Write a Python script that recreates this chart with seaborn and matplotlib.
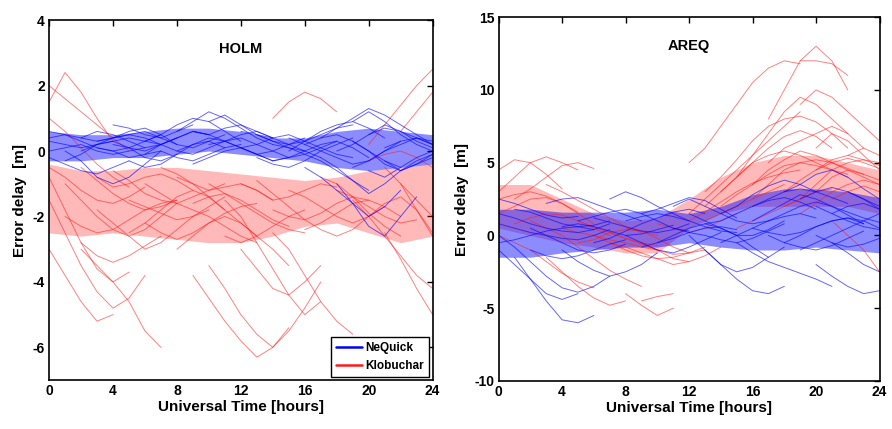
import numpy as np
import pandas as pd
import matplotlib
matplotlib.use("Agg")
import matplotlib.pyplot as plt
import seaborn as sns
from matplotlib.lines import Line2D

sns.set_style("white")
plt.rcParams['font.family'] = ['Liberation Sans', 'DejaVu Sans']
plt.rcParams['font.weight'] = 'bold'
plt.rcParams['axes.unicode_minus'] = False
plt.rcParams['text.color'] = 'black'
plt.rcParams['axes.labelcolor'] = 'black'
plt.rcParams['xtick.color'] = 'black'
plt.rcParams['ytick.color'] = 'black'

# ---------------- data ----------------
band_hours = [0, 2, 4, 6, 8, 10, 12, 14, 16, 18, 20, 22, 24]

holm_neq_low = [-0.3, -0.3, -0.2, -0.2, -0.1, 0.0, -0.1, -0.2, -0.3, -0.5, -0.6, -0.5, -0.4]
holm_neq_up = [0.6, 0.5, 0.5, 0.6, 0.7, 0.7, 0.6, 0.4, 0.4, 0.6, 0.7, 0.6, 0.5]
holm_klo_low = [-2.5, -2.6, -2.5, -2.6, -2.7, -2.8, -2.8, -2.6, -2.3, -2.2, -2.5, -2.8, -2.6]
holm_klo_up = [-0.4, -0.6, -0.6, -0.5, -0.5, -0.6, -0.7, -0.8, -0.9, -0.8, -0.6, -0.5, -0.4]

areq_neq_low = [-1.5, -1.5, -1.2, -1.0, -0.8, -0.8, -0.5, -0.8, -1.0, -1.0, -0.8, -1.0, -1.2]
areq_neq_up = [1.8, 1.8, 1.6, 1.6, 1.6, 1.8, 1.5, 2.0, 2.8, 3.2, 3.2, 3.0, 2.6]
areq_klo_low = [0.5, 0.0, -0.5, -0.8, -1.2, -1.2, 0.5, 1.5, 2.0, 2.0, 2.0, 2.0, 1.5]
areq_klo_up = [3.5, 3.5, 2.5, 1.5, 1.0, 1.2, 2.5, 4.0, 5.0, 5.5, 5.5, 5.0, 4.5]

# satellite arcs: (start hour, hourly values)
holm_neq_arcs = [
    (0, [0.3, 0.2, 0.1, 0.2, 0.3, 0.4, 0.3, 0.2]),
    (0, [-0.2, -0.4, -0.6, -0.7, -0.5, -0.3]),
    (0, [0.6, 0.5, 0.4, 0.3, 0.4, 0.5]),
    (1, [0.0, -0.3, -0.8, -1.0, -0.8, -0.4, 0.0]),
    (2, [0.4, 0.6, 0.5, 0.3, 0.1, 0.2, 0.4]),
    (3, [0.1, 0.0, -0.2, -0.1, 0.2, 0.4, 0.6, 0.5]),
    (4, [0.8, 0.7, 0.5, 0.4, 0.6, 0.8]),
    (5, [-0.3, -0.5, -0.4, -0.1, 0.2, 0.3, 0.1]),
    (6, [0.3, 0.5, 0.8, 1.0, 0.9, 0.6, 0.3]),
    (8, [0.6, 0.9, 1.2, 1.0, 0.7, 0.4, 0.2]),
    (8, [0.0, 0.2, 0.4, 0.3, 0.1, -0.1, -0.3, -0.2]),
    (9, [-0.4, -0.2, 0.0, 0.1, -0.1, -0.3]),
    (10, [0.9, 1.1, 0.8, 0.5, 0.3, 0.1, 0.0]),
    (11, [0.3, 0.4, 0.2, 0.0, -0.2, -0.1, 0.1, 0.3]),
    (12, [0.6, 0.5, 0.3, 0.2, 0.0, -0.2]),
    (13, [-0.2, -0.4, -0.5, -0.3, 0.0, 0.2, 0.4]),
    (14, [0.2, 0.1, -0.1, -0.3, -0.6, -0.9, -1.2]),
    (15, [0.0, 0.3, 0.6, 0.8, 0.9, 0.7, 0.4]),
    (16, [-0.5, -0.8, -1.2, -1.6, -2.0, -1.7, -1.2]),
    (17, [0.4, 0.7, 1.0, 1.3, 1.1, 0.8, 0.5, 0.2]),
    (17, [-0.2, -0.5, -0.9, -1.3, -1.0, -0.6, -0.3, -0.1]),
    (18, [-1.0, -1.6, -2.3, -2.6, -2.0, -1.4]),
    (19, [0.9, 1.2, 0.9, 0.5, 0.2, 0.0]),
    (19, [0.3, 0.0, -0.4, -0.6, -0.4, -0.1]),
    (20, [-0.6, -0.8, -0.5, -0.2, 0.0]),
    (0, [0.0, 0.1, 0.2, 0.0, -0.1, 0.0, 0.1]),
    (6, [-0.1, 0.0, -0.2, -0.3, -0.1, 0.1, 0.2]),
    (3, [0.3, 0.4, 0.6, 0.7, 0.5, 0.2]),
    (13, [0.5, 0.4, 0.2, 0.3, 0.5, 0.7, 0.8]),
    (20, [0.5, 0.8, 0.6, 0.3, 0.1]),
    (0, [0.4, 0.5, 0.3, 0.1, 0.0, 0.1, 0.3, 0.5]),
    (1, [-0.3, -0.1, 0.2, 0.4, 0.5, 0.4, 0.2]),
    (2, [0.0, 0.2, 0.3, 0.1, -0.2, -0.3, -0.1]),
    (4, [0.2, 0.1, 0.0, 0.2, 0.4, 0.6, 0.5, 0.3]),
    (5, [0.5, 0.6, 0.4, 0.2, 0.1, 0.3, 0.5]),
    (7, [0.2, 0.0, -0.1, 0.1, 0.3, 0.5, 0.6, 0.4]),
    (9, [0.6, 0.5, 0.7, 0.8, 0.6, 0.4]),
    (10, [0.2, 0.3, 0.1, -0.1, 0.0, 0.2, 0.4]),
    (12, [0.1, 0.2, 0.4, 0.5, 0.3, 0.1, -0.1, -0.2]),
    (14, [-0.3, -0.2, 0.0, 0.2, 0.3, 0.1, -0.2]),
    (15, [0.4, 0.2, 0.0, -0.2, -0.4, -0.3, 0.0, 0.3]),
    (18, [0.0, 0.2, 0.5, 0.7, 0.6, 0.4, 0.2]),
    (19, [-0.5, -0.3, 0.0, 0.2, 0.4, 0.3]),
    (21, [0.1, 0.3, 0.4, 0.2]),
    (21, [-0.3, -0.6, -0.4, -0.2]),
    (16, [0.2, 0.4, 0.5, 0.3, 0.0, -0.3, -0.5]),
]

holm_klo_arcs = [
    (0, [2.0, 1.6, 1.2, 0.8, 0.4, 0.0]),
    (0, [1.5, 2.4, 1.8, 1.0, 0.3]),
    (0, [1.0, 0.6, 0.1, -0.4, -0.8, -1.1]),
    (0, [-1.5, -2.5, -3.5, -4.3, -4.8, -4.5, -3.8]),
    (0, [-0.8, -1.8, -2.8, -3.6, -4.0, -3.7]),
    (0, [-3.0, -3.8, -4.6, -5.2, -5.0]),
    (1, [-1.0, -1.5, -2.0, -2.4, -2.6, -2.4, -2.0, -1.6]),
    (2, [-0.5, -0.9, -1.3, -1.6, -1.8, -1.7, -1.5]),
    (3, [-1.8, -2.2, -2.6, -3.0, -2.8, -2.4, -2.0, -1.8]),
    (4, [-0.6, -0.9, -1.3, -1.5, -1.6, -1.4, -1.2, -1.0]),
    (5, [-2.5, -2.2, -1.8, -1.4, -1.2, -1.4, -1.8]),
    (6, [-1.0, -1.3, -1.6, -1.8, -2.0, -2.3, -2.6, -2.8]),
    (7, [-0.5, -0.7, -1.0, -1.4, -1.8, -2.2, -2.6]),
    (8, [-3.0, -2.6, -2.2, -2.0, -2.2, -2.6, -3.0, -3.5]),
    (9, [-3.8, -4.5, -5.2, -5.8, -6.3, -6.0, -5.4]),
    (10, [-3.5, -4.2, -5.0, -5.6, -6.0, -5.5, -4.8, -4.0]),
    (11, [-1.5, -2.0, -2.8, -3.6, -4.4, -5.0, -4.6]),
    (12, [-3.0, -3.6, -4.2, -4.4, -4.0, -3.5]),
    (10, [-1.0, -1.3, -1.6, -1.9, -2.2, -2.4, -2.5]),
    (13, [-0.9, -1.3, -1.7, -2.1, -2.4, -2.6, -2.4, -2.0]),
    (14, [-2.5, -3.0, -3.8, -4.6, -5.2, -5.6]),
    (15, [-1.2, -1.4, -1.7, -2.0, -2.2, -2.0, -1.7]),
    (17, [-0.8, -1.0, -1.4, -1.9, -2.3, -2.6]),
    (19, [-1.5, -2.0, -2.6, -3.2, -3.8, -4.2]),
    (20, [-0.3, -0.1, 0.0, -0.2, -0.5]),
    (20, [0.2, 0.8, 1.4, 2.0, 2.5]),
    (21, [-2.5, -3.3, -4.2, -5.0]),
    (21, [-0.5, -1.0, -1.8, -2.6]),
    (22, [0.6, 1.2, 1.8]),
    (20, [-2.0, -1.6, -1.4, -1.8, -2.5]),
    (14, [1.0, 1.5, 1.8, 1.6, 1.2]),
    (2, [-3.0, -3.5, -4.0, -4.6, -5.5, -6.0]),
    (0, [-0.5, -0.8, -1.2, -1.5, -1.6, -1.4, -1.1]),
    (1, [-2.0, -2.3, -2.5, -2.4, -2.1, -1.8, -1.6, -1.5]),
    (3, [-0.8, -1.1, -1.0, -0.8, -0.7, -0.9, -1.2]),
    (5, [-1.5, -1.7, -1.9, -2.1, -2.0, -1.7, -1.4]),
    (6, [-2.2, -2.5, -2.7, -2.5, -2.2, -1.9, -1.7, -1.6]),
    (8, [-0.8, -1.0, -1.2, -1.1, -1.0, -1.2, -1.5]),
    (9, [-1.6, -1.4, -1.3, -1.5, -1.8, -2.1, -2.3]),
    (11, [-2.6, -2.8, -2.6, -2.3, -2.0, -1.8]),
    (12, [-1.0, -1.2, -1.5, -1.4, -1.2, -1.0, -1.1]),
    (14, [-1.8, -2.0, -2.1, -1.9, -1.6, -1.4, -1.5]),
    (16, [-2.4, -2.2, -1.9, -1.6, -1.5, -1.7, -2.0]),
    (18, [-1.2, -1.4, -1.7, -2.0, -2.2, -2.1]),
    (22, [-1.0, -1.5, -2.0]),
    (2, [-2.8, -3.2, -3.4, -3.2, -2.9, -2.6]),
]

areq_neq_arcs = [
    (0, [1.5, 1.2, 0.8, 0.5, 0.3, 0.2, 0.4, 0.8]),
    (0, [0.0, -0.8, -1.8, -2.8, -3.6, -3.9, -3.5, -2.8]),
    (0, [-1.0, -2.0, -3.0, -4.0, -4.4, -4.0]),
    (1, [-1.5, -3.0, -4.5, -5.8, -6.0, -5.5]),
    (0, [2.5, 2.2, 1.8, 1.4, 1.2, 1.3]),
    (2, [0.5, 0.0, -0.5, -1.0, -1.2, -1.0, -0.6]),
    (3, [2.2, 2.5, 2.6, 2.2, 1.8, 1.4, 1.0]),
    (4, [-1.0, -1.8, -2.4, -2.8, -2.5, -2.0, -1.2]),
    (5, [1.0, 1.3, 1.6, 1.8, 1.5, 1.0, 0.5, 0.3]),
    (6, [-0.5, -0.2, 0.3, 0.8, 1.2, 1.6, 1.8, 1.5]),
    (7, [2.5, 3.0, 2.6, 2.0, 1.5, 1.0]),
    (8, [0.0, -0.5, -1.0, -1.2, -0.8, -0.3, 0.2]),
    (9, [1.5, 1.8, 2.2, 2.6, 2.4, 1.8, 1.2]),
    (10, [-0.5, 0.0, 0.5, 0.8, 0.5, 0.0, -0.8, -1.5]),
    (11, [2.0, 2.5, 2.0, 1.5, 1.0, 0.8, 1.0]),
    (12, [0.0, -1.0, -2.0, -3.0, -3.8, -4.0, -3.5]),
    (12, [1.5, 1.0, 0.5, 0.0, 0.0, 0.4, 1.0]),
    (13, [-1.0, -2.0, -2.5, -2.2, -1.5, -0.8]),
    (14, [1.5, 2.0, 2.8, 3.4, 3.8, 3.5, 3.0]),
    (15, [-0.5, -1.2, -1.8, -2.2, -2.6, -3.0, -3.5]),
    (16, [1.0, 1.6, 2.2, 2.8, 2.5, 2.0, 1.4, 0.8]),
    (17, [0.0, -0.5, -0.8, -1.0, -0.7, -0.2, 0.3]),
    (18, [3.0, 3.5, 4.2, 4.5, 4.0, 3.2, 2.5]),
    (19, [-1.0, -0.5, 0.0, 0.5, 1.0, 1.5]),
    (20, [-2.0, -2.8, -3.5, -4.0, -3.8]),
    (20, [2.0, 1.5, 1.0, 0.6, 0.4]),
    (21, [-0.5, -1.2, -2.0, -2.5]),
    (22, [3.0, 2.5, 1.8]),
    (0, [-0.5, -0.3, 0.0, 0.3, 0.5, 0.6, 0.4]),
    (16, [0.5, 0.2, 0.0, 0.2, 0.6, 1.0, 1.2, 0.8]),
    (0, [0.8, 0.5, 0.2, 0.0, -0.2, -0.3, 0.0, 0.4]),
    (1, [1.8, 1.6, 1.2, 0.8, 0.6, 0.7, 1.0]),
    (2, [-1.0, -1.4, -1.6, -1.4, -1.0, -0.6, -0.3]),
    (4, [0.6, 0.8, 0.6, 0.3, 0.0, 0.1, 0.4, 0.7]),
    (6, [1.2, 0.9, 0.6, 0.3, 0.2, 0.4, 0.8]),
    (8, [1.0, 1.3, 1.5, 1.3, 1.0, 0.6, 0.3, 0.2]),
    (9, [-0.8, -0.5, -0.2, 0.2, 0.5, 0.6, 0.4]),
    (11, [0.5, 0.2, 0.0, -0.3, -0.5, -0.2, 0.3, 0.8]),
    (13, [0.8, 1.0, 1.5, 2.0, 2.4, 2.6, 2.3, 1.8]),
    (14, [-0.5, 0.0, 0.5, 1.0, 1.3, 1.5, 1.2]),
    (16, [2.0, 2.5, 3.0, 3.2, 3.0, 2.6, 2.2]),
    (17, [1.0, 1.5, 2.0, 2.3, 2.0, 1.6, 1.2, 0.9]),
    (18, [-0.5, 0.0, 0.6, 1.0, 1.2, 1.0, 0.5]),
    (19, [2.5, 3.0, 3.3, 3.0, 2.5, 2.0]),
    (20, [0.0, -0.5, -0.8, -0.6, -0.2]),
    (21, [1.5, 2.0, 2.2, 1.8]),
]

areq_klo_arcs = [
    (0, [3.0, 4.0, 5.0, 5.4, 5.0, 4.5]),
    (0, [1.5, 2.0, 2.5, 2.6, 2.2, 1.5, 0.8]),
    (0, [0.0, -0.5, -1.0, -1.8, -2.6, -3.2, -3.6]),
    (0, [4.5, 5.2, 5.0, 4.2, 3.2]),
    (1, [2.5, 3.2, 4.0, 4.8, 5.0, 4.6]),
    (2, [1.0, 0.5, 0.0, -0.8, -1.6, -2.4, -3.0, -3.5]),
    (3, [-1.5, -2.5, -3.5, -4.3, -4.8, -4.5]),
    (4, [0.5, 0.2, 0.0, -0.3, -0.5, -0.8, -1.0]),
    (5, [-0.5, -0.3, 0.2, 0.4, 0.3, 0.0]),
    (6, [0.0, -0.5, -1.0, -1.4, -1.6, -1.5, -1.2]),
    (7, [-0.5, -0.8, -1.2, -1.6, -2.0, -1.8]),
    (8, [-4.0, -4.8, -5.5, -5.0]),
    (9, [-4.5, -4.2, -4.0]),
    (8, [0.5, 0.3, -0.2, -0.8, -1.2, -1.0]),
    (10, [0.8, 0.5, 0.2, 0.5, 1.0, 1.5]),
    (12, [1.5, 2.5, 3.5, 4.5, 5.5, 6.5, 7.5, 8.5]),
    (12, [5.0, 6.0, 7.5, 9.0, 10.5, 11.5, 12.0, 11.8]),
    (13, [2.0, 3.0, 4.0, 5.0, 6.0, 6.8, 7.2, 6.8, 6.0]),
    (14, [3.0, 4.0, 5.0, 5.5, 5.8, 5.5, 5.0, 4.5, 4.0]),
    (15, [4.0, 5.5, 7.0, 8.5, 9.5, 9.0, 8.0, 7.0]),
    (16, [2.5, 3.5, 4.5, 5.0, 5.2, 5.0, 4.5, 4.0, 3.5]),
    (17, [8.0, 10.0, 12.0, 13.0, 12.0, 10.0]),
    (17, [5.0, 6.0, 6.5, 7.0, 7.5, 7.0, 6.0]),
    (18, [2.0, 2.5, 3.5, 4.5, 5.0, 5.2, 5.0]),
    (19, [9.0, 10.0, 9.5, 8.5, 7.5, 6.5]),
    (20, [3.0, 4.0, 4.5, 4.2, 3.8]),
    (20, [6.0, 7.0, 6.5, 5.5, 4.5]),
    (21, [1.0, 0.0, -1.0, -2.5]),
    (22, [5.5, 6.0, 5.5]),
    (13, [1.0, 1.5, 2.0, 2.5, 3.0, 3.5]),
    (19, [12.0, 12.0, 11.8, 11.0]),
    (15, [0.5, 1.0, 1.5, 2.0, 2.5, 3.0, 3.2]),
    (0, [2.5, 2.8, 3.0, 2.7, 2.2, 1.6]),
    (1, [0.8, 1.2, 1.5, 1.4, 1.0, 0.5, 0.0]),
    (3, [3.5, 3.0, 2.4, 1.8, 1.2, 0.6, 0.2]),
    (5, [1.0, 0.6, 0.2, -0.2, -0.5, -0.7]),
    (7, [0.2, -0.2, -0.6, -1.0, -1.3, -1.2, -0.8]),
    (9, [-0.5, -1.0, -1.6, -1.8, -1.4, -0.8]),
    (12, [1.0, 1.6, 2.3, 3.0, 3.6, 4.0, 4.3, 4.5]),
    (14, [2.0, 2.8, 3.5, 4.2, 4.8, 5.0, 4.8, 4.5, 4.2]),
    (16, [3.5, 4.5, 5.2, 5.8, 5.5, 5.0, 4.6, 4.2]),
    (18, [3.0, 3.8, 4.5, 5.2, 5.5, 5.2, 4.8]),
    (19, [1.5, 2.2, 3.0, 3.5, 3.8, 3.5]),
    (20, [4.5, 5.0, 5.3, 5.0, 4.6]),
    (21, [2.5, 3.0, 3.4, 3.0]),
    (13, [3.0, 4.0, 5.2, 6.5, 7.5, 8.0, 8.2, 7.8, 7.0, 6.0]),
]

series_names = ["NeQuick", "Klobuchar"]
stations = ["HOLM", "AREQ"]
x_ticks = [0, 4, 8, 12, 16, 20, 24]
holm_y_ticks = [-6, -4, -2, 0, 2, 4]
areq_y_ticks = [-10, -5, 0, 5, 10, 15]

BLUE = "#0000ff"
RED = "#ff1a1a"


def arcs_to_df(arcs, model):
    rows = []
    for k, (t0, vals) in enumerate(arcs):
        for j, v in enumerate(vals):
            rows.append({"hour": t0 + j, "err": v, "arc": k, "model": model})
    return pd.DataFrame(rows)


fig = plt.figure(figsize=(8.92, 4.29), dpi=100)
ax1 = fig.add_axes([0.055, 0.114, 0.430, 0.839])
ax2 = fig.add_axes([0.559, 0.112, 0.427, 0.848])

panels = [
    (ax1, stations[0], holm_neq_arcs, holm_klo_arcs, holm_neq_low, holm_neq_up,
     holm_klo_low, holm_klo_up, (-7, 4), holm_y_ticks),
    (ax2, stations[1], areq_neq_arcs, areq_klo_arcs, areq_neq_low, areq_neq_up,
     areq_klo_low, areq_klo_up, (-10, 15), areq_y_ticks),
]

for ax, name, narcs, karcs, nlo, nup, klo, kup, ylim, yt in panels:
    # Klobuchar first
    ax.fill_between(band_hours, klo, kup, color=RED, alpha=0.3, lw=0)
    dk = arcs_to_df(karcs, "Klobuchar")
    sns.lineplot(data=dk, x="hour", y="err", units="arc", estimator=None,
                 color=RED, lw=0.7, alpha=0.55, ax=ax, legend=False,
                 sort=False)
    ax.fill_between(band_hours, nlo, nup, color=BLUE, alpha=0.45, lw=0)
    dn = arcs_to_df(narcs, "NeQuick")
    sns.lineplot(data=dn, x="hour", y="err", units="arc", estimator=None,
                 color=BLUE, lw=0.7, alpha=0.6, ax=ax, legend=False,
                 sort=False)

    ax.set_xlim(0, 24)
    ax.set_ylim(*ylim)
    ax.set_xticks(x_ticks)
    ax.set_yticks(yt)
    ax.tick_params(direction="in", length=4, width=1, top=True, right=True,
                   labelsize=10, pad=3, colors="black")
    for lab in ax.get_xticklabels() + ax.get_yticklabels():
        lab.set_fontweight("bold")
    for s in ax.spines.values():
        s.set_visible(True)
        s.set_color("black")
        s.set_linewidth(1.2)
    ax.set_xlabel("Universal Time [hours]", fontsize=11, fontweight="bold",
                  labelpad=1, color="black")
    ax.set_ylabel("Error delay  [m]", fontsize=11, fontweight="bold",
                  labelpad=4, color="black")
    ax.text(0.5, 0.92, name, transform=ax.transAxes, ha="center", va="center",
            fontsize=10.5, fontweight="bold", color="black")

handles = [Line2D([0], [0], color=BLUE, lw=1.8),
           Line2D([0], [0], color=RED, lw=1.8)]
leg = ax1.legend(handles, series_names, loc="lower right", fontsize=8.5,
                 frameon=True, fancybox=False, borderpad=0.4,
                 handlelength=2.2, handletextpad=0.3, borderaxespad=0.3)
leg.get_frame().set_edgecolor("black")
leg.get_frame().set_linewidth(1.0)
leg.get_frame().set_alpha(1.0)
for t in leg.get_texts():
    t.set_fontweight("bold")
    t.set_color("black")

fig.savefig("out.png", dpi=100)
